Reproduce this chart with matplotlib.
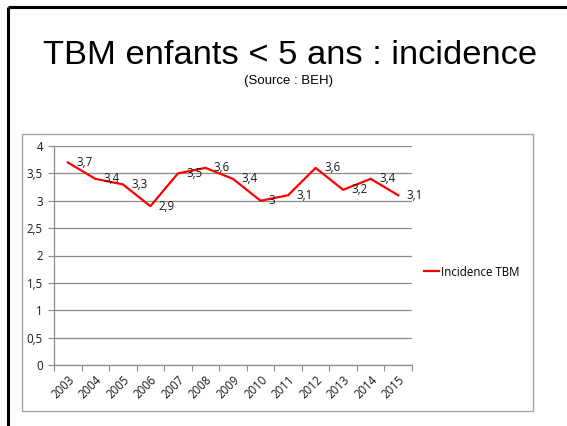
import matplotlib
matplotlib.use("Agg")
import matplotlib.pyplot as plt
from matplotlib.patches import Rectangle
from matplotlib.lines import Line2D

years = ["2003", "2004", "2005", "2006", "2007", "2008", "2009",
         "2010", "2011", "2012", "2013", "2014", "2015"]
incidence = [3.7, 3.4, 3.3, 2.9, 3.5, 3.6, 3.4, 3.0, 3.1, 3.6, 3.2, 3.4, 3.1]
value_labels = ["3,7", "3,4", "3,3", "2,9", "3,5", "3,6", "3,4",
                "3", "3,1", "3,6", "3,2", "3,4", "3,1"]
y_ticks = [0, 0.5, 1, 1.5, 2, 2.5, 3, 3.5, 4]
y_tick_labels = ["0", "0,5", "1", "1,5", "2", "2,5", "3", "3,5", "4"]
series_name = "Incidence TBM"
title = "TBM enfants < 5 ans : incidence"
subtitle = "(Source : BEH)"

W, H = 567, 426
fig = plt.figure(figsize=(W / 100, H / 100), dpi=100)
fig.patch.set_facecolor("white")

# slide frame (black top and left lines)
fig.add_artist(Line2D([8 / W, 1.0], [1 - 7 / H, 1 - 7 / H], color="black", lw=2.2,
                      transform=fig.transFigure, solid_capstyle="butt"))
fig.add_artist(Line2D([8 / W, 8 / W], [1 - 7 / H, 0.0], color="black", lw=2.2,
                      transform=fig.transFigure, solid_capstyle="butt"))

# chart box
fig.add_artist(Rectangle((22 / W, 1 - 411 / H), (533 - 22) / W, (411 - 134) / H,
                         transform=fig.transFigure, fill=False,
                         edgecolor="#a6a6a6", lw=1.0))

fig.text(290 / W, 1 - 55 / H, title, ha="center", va="center",
         fontsize=24.8, family="Liberation Sans")
fig.text(289 / W, 1 - 81 / H, subtitle, ha="center", va="center",
         fontsize=9.5, family="Liberation Sans")

ax = fig.add_axes([54 / W, 1 - 365 / H, (412 - 54) / W, (365 - 146) / H])
x = list(range(len(years)))
line, = ax.plot(x, incidence, color="#ff0000", lw=1.6, label=series_name)

lbl_font = dict(fontsize=8.3, family="Open Sans", color="#1a1a1a")
for xi, yi, lab in zip(x, incidence, value_labels):
    ax.annotate(lab, (xi, yi), xytext=(6, 0), textcoords="offset points",
                ha="left", va="center", **lbl_font)

ax.set_xlim(-0.5, len(years) - 0.5)
ax.set_ylim(0, 4)
ax.set_yticks(y_ticks)
ax.set_yticklabels(y_tick_labels, **lbl_font)
ax.yaxis.grid(True, color="#8c8c8c", lw=0.9)
ax.set_axisbelow(True)

ax.set_xticks([i - 0.5 for i in range(len(years) + 1)])
ax.set_xticklabels([])
ax.set_xticks(x, minor=True)
ax.set_xticklabels(years, minor=True, rotation=45, ha="right",
                   rotation_mode="anchor", **lbl_font)
ax.tick_params(axis="x", which="major", length=4, color="#8c8c8c", direction="out")
ax.tick_params(axis="x", which="minor", length=0, pad=6)
ax.tick_params(axis="y", length=4, color="#8c8c8c", direction="out", pad=4)

for s in ["top", "right"]:
    ax.spines[s].set_visible(False)
for s in ["left", "bottom"]:
    ax.spines[s].set_color("#8c8c8c")
    ax.spines[s].set_linewidth(0.9)

fig.legend(handles=[line], labels=[series_name], loc="center left",
           bbox_to_anchor=(419 / W, 1 - 272 / H), frameon=False,
           prop=dict(family="Open Sans", size=8.3), handlelength=1.3,
           handletextpad=0.25, borderaxespad=0)

fig.savefig("out.png", dpi=100)
